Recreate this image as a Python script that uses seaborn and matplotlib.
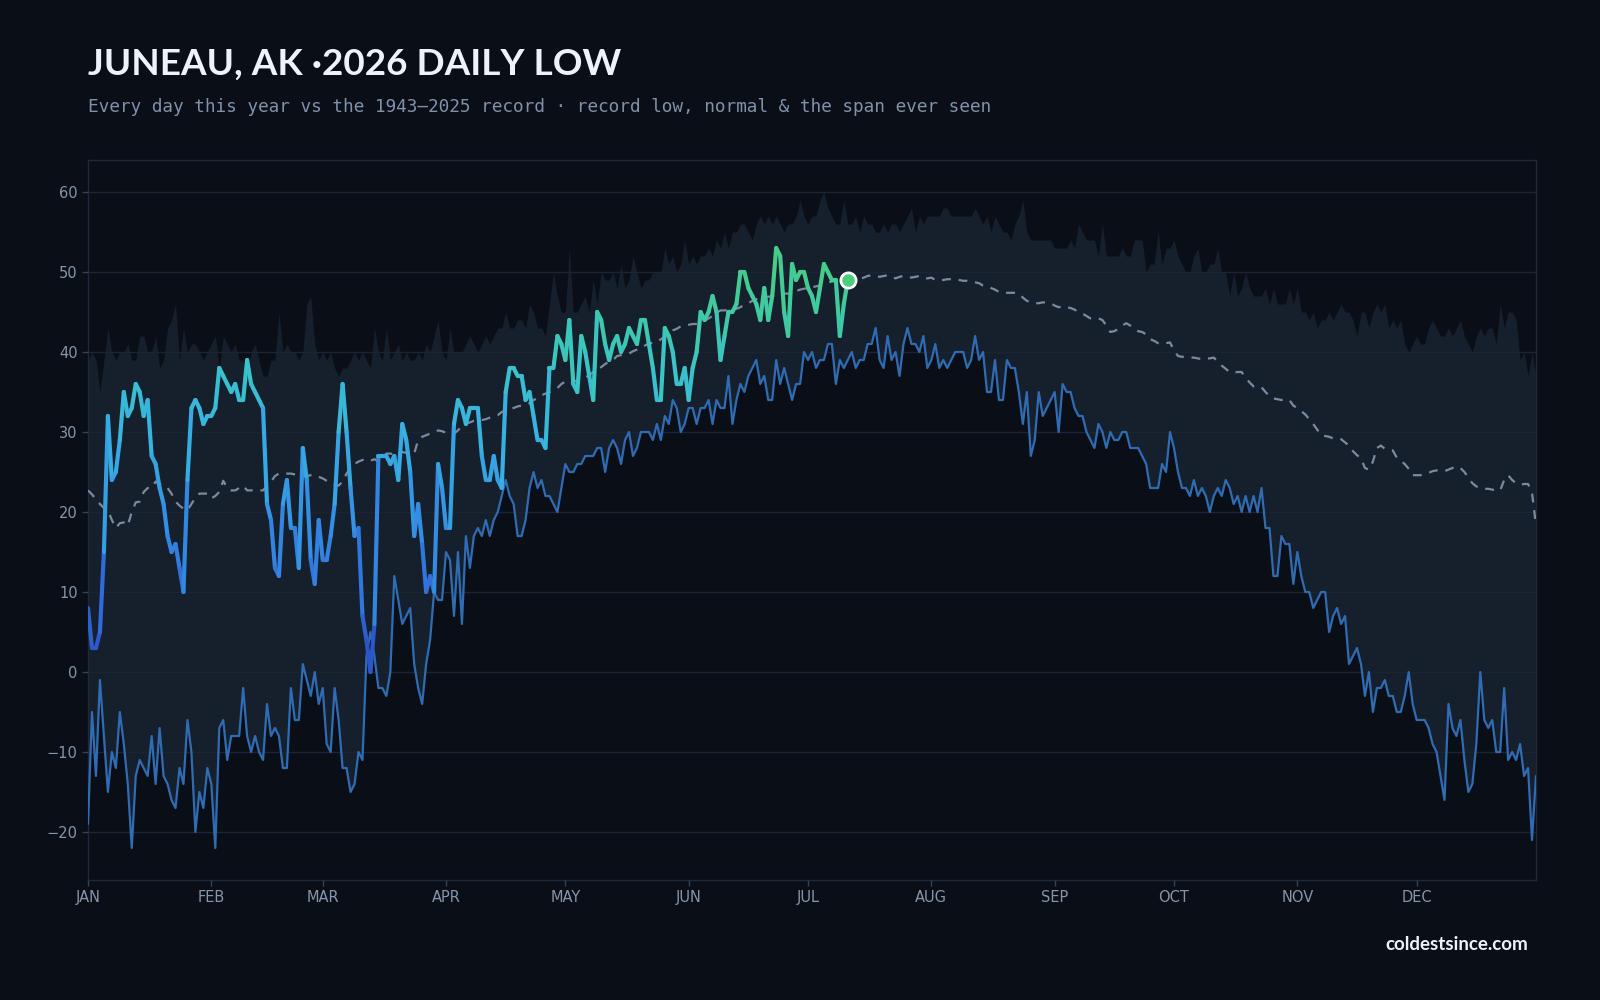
import numpy as np
import seaborn as sns
import matplotlib.pyplot as plt
from matplotlib.collections import LineCollection
from matplotlib.colors import LinearSegmentedColormap, Normalize

# --- data (deg F, one value per day, Jan 1 = day 0) ---
# warmest daily low ever recorded (top of the shaded span)
record_high = [
    39, 40, 39, 35, 39, 43, 40, 39, 40, 40,
    41, 39, 39, 42, 42, 40, 40, 42, 38, 39,
    43, 44, 46, 39, 43, 40, 41, 41, 40, 39,
    40, 41, 42, 38, 42, 41, 40, 41, 39, 39,
    37, 40, 41, 39, 37, 37, 39, 39, 45, 40,
    41, 40, 40, 39, 40, 46, 47, 41, 39, 40,
    39, 40, 38, 37, 38, 38, 39, 40, 39, 40,
    39, 38, 43, 40, 39, 43, 39, 40, 41, 39,
    40, 39, 39, 40, 39, 41, 40, 42, 44, 40,
    39, 43, 40, 40, 40, 41, 42, 41, 40, 41,
    42, 41, 42, 43, 43, 45, 43, 43, 44, 44,
    43, 46, 45, 43, 43, 42, 46, 50, 47, 45,
    45, 53, 45, 45, 46, 47, 45, 49, 46, 50,
    49, 49, 50, 48, 51, 48, 49, 52, 50, 48,
    49, 49, 50, 50, 50, 53, 51, 52, 50, 51,
    54, 51, 52, 51, 52, 52, 53, 52, 54, 53,
    55, 53, 55, 55, 56, 56, 55, 54, 56, 57,
    56, 57, 56, 57, 56, 55, 56, 56, 57, 59,
    57, 56, 57, 57, 59, 60, 58, 57, 56, 56,
    59, 56, 56, 57, 55, 57, 56, 56, 55, 55,
    56, 55, 56, 56, 55, 56, 57, 58, 55, 57,
    56, 57, 57, 57, 57, 58, 58, 57, 57, 57,
    57, 57, 57, 58, 57, 56, 57, 55, 57, 56,
    55, 55, 54, 56, 57, 59, 55, 54, 54, 54,
    54, 54, 54, 53, 53, 53, 53, 54, 53, 56,
    55, 54, 54, 54, 52, 56, 52, 52, 52, 52,
    53, 52, 52, 54, 54, 54, 50, 51, 51, 55,
    51, 53, 53, 54, 52, 51, 50, 50, 52, 53,
    50, 50, 51, 51, 53, 50, 50, 47, 50, 47,
    48, 50, 48, 47, 47, 47, 48, 46, 48, 46,
    46, 46, 48, 46, 48, 45, 45, 44, 45, 43,
    44, 44, 45, 44, 45, 46, 45, 45, 44, 42,
    45, 45, 43, 45, 46, 45, 46, 43, 44, 43,
    44, 41, 40, 41, 42, 41, 41, 43, 44, 43,
    42, 42, 43, 42, 43, 44, 42, 41, 40, 42,
    43, 42, 43, 43, 41, 46, 43, 45, 45, 44,
    39, 40, 37, 40, 37,
]

# record low for each day, 1943-2025
record_low = [
    -19, -5, -13, -1, -8, -15, -10, -12, -5, -9,
    -14, -22, -13, -11, -12, -13, -8, -14, -7, -13,
    -14, -16, -17, -12, -14, -6, -10, -20, -15, -17,
    -12, -14, -22, -7, -6, -11, -8, -8, -8, -2,
    -8, -10, -8, -10, -11, -4, -8, -7, -8, -12,
    -12, -2, -6, -6, 1, -1, -3, 0, -4, -2,
    -9, -10, -2, -6, -12, -12, -15, -14, -10, -11,
    2, 5, 2, -2, -2, -3, 0, 12, 9, 6,
    7, 8, 1, -2, -4, 1, 4, 10, 9, 9,
    15, 14, 7, 15, 6, 17, 13, 17, 18, 17,
    19, 17, 19, 20, 22, 24, 22, 21, 17, 17,
    19, 23, 25, 23, 24, 22, 22, 21, 20, 23,
    26, 25, 25, 26, 26, 27, 27, 27, 28, 28,
    25, 28, 29, 28, 26, 29, 30, 27, 28, 30,
    30, 30, 29, 31, 29, 32, 31, 34, 33, 30,
    31, 33, 33, 31, 33, 33, 34, 31, 34, 33,
    33, 37, 31, 34, 36, 35, 37, 38, 39, 36,
    37, 34, 34, 39, 36, 38, 36, 34, 36, 36,
    40, 39, 40, 38, 39, 39, 41, 41, 36, 39,
    38, 39, 40, 38, 39, 39, 41, 41, 43, 39,
    38, 42, 39, 40, 37, 41, 43, 41, 41, 40,
    42, 38, 39, 41, 38, 39, 38, 39, 40, 40,
    40, 38, 39, 42, 39, 40, 35, 35, 39, 34,
    34, 39, 38, 38, 35, 31, 35, 27, 29, 35,
    32, 33, 34, 35, 30, 36, 35, 35, 33, 32,
    32, 30, 29, 28, 31, 30, 28, 30, 29, 29,
    30, 30, 28, 28, 28, 27, 26, 23, 23, 23,
    26, 25, 30, 28, 25, 23, 23, 22, 24, 22,
    23, 22, 20, 22, 23, 22, 24, 23, 21, 22,
    20, 22, 20, 22, 20, 23, 18, 18, 12, 12,
    17, 16, 16, 11, 15, 12, 10, 10, 8, 9,
    10, 10, 5, 7, 8, 6, 7, 1, 2, 3,
    1, -3, 0, -5, -2, -2, -1, -3, -3, -5,
    -5, -3, 0, -4, -6, -6, -6, -7, -9, -10,
    -13, -16, -4, -7, -8, -6, -11, -15, -14, -9,
    0, -6, -7, -6, -10, -10, -2, -11, -10, -11,
    -9, -13, -12, -21, -13,
]

# normal daily low
normal = [
    22.7, 22.2, 21.6, 21.0, 20.5, 20.2, 19.0, 18.0, 18.6, 18.7,
    18.3, 20.0, 21.2, 21.3, 22.5, 23.0, 23.0, 23.8, 23.5, 23.4,
    23.0, 22.3, 21.3, 20.8, 20.4, 20.2, 21.0, 21.8, 22.3, 22.3,
    22.3, 21.7, 22.0, 22.5, 23.9, 23.0, 22.7, 22.7, 23.0, 23.3,
    22.7, 22.7, 22.7, 22.7, 22.7, 23.3, 23.8, 24.5, 24.8, 24.8,
    24.8, 24.8, 24.7, 24.6, 24.5, 24.5, 24.6, 24.6, 24.4, 24.2,
    23.9, 23.6, 23.4, 23.3, 23.8, 24.8, 25.5, 26.0, 26.3, 26.5,
    26.6, 26.4, 26.6, 26.3, 26.8, 27.3, 27.3, 27.2, 27.4, 27.5,
    27.4, 27.2, 27.3, 29.0, 29.4, 29.6, 29.8, 30.0, 30.2, 30.1,
    29.9, 29.8, 29.8, 30.2, 30.8, 31.0, 31.2, 31.4, 31.5, 31.5,
    31.6, 31.8, 32.0, 32.1, 32.5, 32.7, 32.9, 33.0, 33.2, 33.3,
    33.5, 33.6, 34.0, 34.2, 34.6, 34.8, 35.0, 35.2, 35.5, 36.0,
    36.3, 36.0, 36.2, 36.5, 36.7, 36.8, 37.1, 37.5, 37.8, 38.1,
    38.5, 38.8, 39.0, 39.5, 39.6, 39.7, 39.8, 40.1, 40.3, 40.6,
    40.8, 41.1, 41.1, 41.2, 41.6, 41.9, 42.3, 42.7, 42.9, 43.2,
    43.3, 43.4, 43.5, 43.5, 43.7, 43.9, 44.2, 44.5, 44.9, 45.2,
    45.2, 45.3, 45.4, 45.4, 45.6, 45.9, 46.1, 46.4, 46.6, 46.7,
    46.9, 46.9, 47.0, 47.1, 47.2, 47.3, 47.3, 47.4, 47.6, 47.8,
    47.9, 48.1, 48.1, 48.2, 48.3, 48.4, 48.7, 48.8, 48.9, 49.0,
    49.0, 49.0, 49.0, 49.0, 49.1, 49.3, 49.5, 49.6, 49.5, 49.4,
    49.5, 49.6, 49.4, 49.2, 49.4, 49.5, 49.4, 49.3, 49.4, 49.5,
    49.3, 49.2, 49.3, 49.0, 49.0, 49.0, 49.1, 49.1, 49.1, 49.0,
    48.9, 48.9, 48.8, 48.7, 48.6, 48.3, 48.2, 48.0, 47.8, 47.5,
    47.4, 47.4, 47.4, 47.4, 47.3, 46.8, 46.4, 46.2, 46.1, 46.1,
    46.2, 46.2, 46.1, 45.8, 45.6, 45.7, 45.6, 45.5, 45.3, 45.0,
    44.8, 44.5, 44.2, 44.2, 44.2, 44.0, 43.3, 42.5, 42.6, 42.9,
    43.3, 43.6, 43.3, 42.9, 42.6, 42.5, 42.2, 41.6, 41.4, 41.1,
    41.0, 41.1, 41.2, 40.2, 39.5, 39.4, 39.4, 39.3, 39.3, 39.2,
    39.1, 39.2, 39.2, 39.3, 38.8, 38.3, 37.9, 37.5, 37.4, 37.5,
    37.5, 36.8, 36.2, 35.7, 35.7, 35.6, 35.0, 34.5, 34.2, 34.1,
    34.0, 34.1, 34.0, 33.3, 33.0, 32.6, 32.2, 31.6, 31.0, 30.3,
    29.6, 29.5, 29.4, 29.2, 29.2, 29.1, 28.7, 28.3, 27.6, 27.1,
    26.7, 25.5, 25.3, 26.3, 28.0, 28.3, 27.9, 27.8, 27.7, 26.8,
    26.4, 26.0, 25.4, 24.6, 24.6, 24.6, 24.8, 24.9, 25.1, 25.2,
    25.1, 25.1, 25.3, 25.5, 25.7, 25.5, 25.0, 24.3, 23.6, 23.2,
    23.0, 22.9, 22.9, 22.8, 22.7, 22.7, 24.0, 24.6, 24.0, 23.6,
    23.4, 23.5, 23.5, 22.4, 18.3,
]

# 2026 daily lows so far (Jan 1 - Jul 11)
low_2026 = [
    8, 3, 3, 5, 15, 32, 24, 25, 29, 35,
    32, 33, 36, 35, 32, 34, 27, 26, 23, 21,
    17, 15, 16, 13, 10, 24, 33, 34, 33, 31,
    32, 32, 33, 38, 37, 36, 35, 36, 34, 34,
    39, 36, 35, 34, 33, 21, 19, 13, 12, 21,
    24, 18, 18, 13, 28, 24, 14, 11, 19, 14,
    14, 17, 21, 30, 36, 30, 23, 17, 18, 7,
    4, 0, 6, 27, 27, 27, 26, 27, 24, 31,
    29, 25, 17, 21, 16, 10, 12, 10, 26, 23,
    18, 18, 31, 34, 33, 31, 33, 33, 33, 27,
    24, 24, 27, 24, 23, 35, 38, 38, 37, 37,
    34, 35, 32, 29, 29, 28, 38, 38, 42, 41,
    39, 44, 36, 35, 42, 40, 37, 34, 45, 44,
    41, 39, 41, 42, 40, 41, 43, 42, 41, 44,
    44, 41, 38, 34, 34, 43, 42, 40, 36, 36,
    38, 34, 38, 40, 45, 44, 45, 47, 45, 39,
    42, 45, 45, 46, 50, 50, 48, 47, 46, 44,
    48, 44, 47, 53, 52, 45, 42, 51, 49, 50,
    50, 48, 47, 45, 48, 51, 50, 49, 49, 42,
    46, 49,
]

month_starts = [0, 31, 59, 90, 120, 151, 181, 212, 243, 273, 304, 334]
month_labels = ["JAN", "FEB", "MAR", "APR", "MAY", "JUN",
                "JUL", "AUG", "SEP", "OCT", "NOV", "DEC"]
y_ticks = [-20, -10, 0, 10, 20, 30, 40, 50, 60]

BG = "#0a0e16"
BAND = "#161f2c"
GRID = "#1a2433"
TICK = "#8496ac"

sns.set_theme(style="dark", rc={
    "figure.facecolor": BG,
    "axes.facecolor": BG,
    "axes.edgecolor": "#1e2a3a",
    "axes.linewidth": 1.0,
    "xtick.color": TICK,
    "ytick.color": TICK,
    "xtick.bottom": True,
    "ytick.left": True,
})
plt.rcParams["font.family"] = ["DejaVu Sans"]

days = np.arange(len(record_low))
days_2026 = np.arange(len(low_2026))

fig, ax = plt.subplots(figsize=(16, 10), dpi=100)
fig.subplots_adjust(left=0.055, right=0.96, top=0.84, bottom=0.12)

# span ever seen
ax.fill_between(days, record_low, record_high, color=BAND, linewidth=0, zorder=1)

# record low + normal
sns.lineplot(x=days, y=record_low, ax=ax, color="#2f6cb3", linewidth=1.6, zorder=3)
sns.lineplot(x=days, y=normal, ax=ax, color="#7a8ba1", linewidth=1.6,
             linestyle=(0, (4, 3.5)), zorder=3)

# 2026 line, coloured by temperature
cmap = LinearSegmentedColormap.from_list("cold", [
    (0.0, "#2a4fc4"), (0.19, "#2f6cd9"), (0.38, "#3494e4"),
    (0.57, "#37b2e2"), (0.72, "#3ac4c8"), (0.85, "#3ecaa2"), (1.0, "#4acd7c"),
])
pts = np.column_stack([days_2026, low_2026]).reshape(-1, 1, 2)
segs = np.concatenate([pts[:-1], pts[1:]], axis=1)
vals = (np.array(low_2026[:-1]) + np.array(low_2026[1:])) / 2
lc = LineCollection(segs, cmap=cmap, norm=Normalize(0, 53), linewidth=3.0,
                    capstyle="round", joinstyle="round", zorder=4)
lc.set_array(vals)
ax.add_collection(lc)
ax.scatter(days_2026[-1], low_2026[-1], s=120, color="#4acd7c",
           edgecolor="white", linewidth=2, zorder=6)

ax.set_xlim(0, len(record_low) - 1)
ax.set_ylim(-26, 64)
ax.set_xticks(month_starts)
ax.set_xticklabels(month_labels)
ax.set_yticks(y_ticks)
ax.tick_params(axis="both", labelsize=10.5, length=4, width=1, color="#33425a", pad=3.5)
ax.set_xlabel("")
ax.set_ylabel("")
ax.set_axisbelow(False)
ax.yaxis.grid(True, color=GRID, linewidth=1.0)
ax.xaxis.grid(False)
for s in ax.spines.values():
    s.set_color("#1e2a3a")

fig.text(0.055, 0.936, "JUNEAU, AK ·2026 DAILY LOW", fontsize=26.6, fontweight="bold",
         color="#eef3fa", family=["Lato", "DejaVu Sans"], va="center")
fig.text(0.055, 0.893,
         "Every day this year vs the 1943\u20132025 record \u00b7 record low, normal & the span ever seen",
         fontsize=12.75, color="#7f92aa", family=["DejaVu Sans Mono"], va="center")
fig.text(0.955, 0.056, "coldestsince.com", ha="right", va="center", fontsize=13.5,
         fontweight="bold", color="#eef3fa", family=["Lato", "DejaVu Sans"])

fig.savefig("out.png", dpi=100, facecolor=BG)
